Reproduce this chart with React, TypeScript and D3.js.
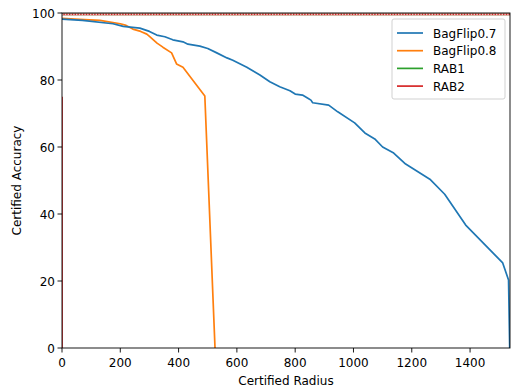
import React from "react";
import * as d3 from "d3";

const seriesNames = ["BagFlip0.7", "BagFlip0.8", "RAB1", "RAB2"];
const seriesColors = ["#1f77b4", "#ff7f0e", "#2ca02c", "#d62728"];

const bagFlip07: [number, number][] = [
  [0, 98.2], [70, 97.8], [175, 96.8], [210, 96.0], [267, 95.5], [300, 94.5],
  [325, 93.4], [353, 92.9], [380, 92.0], [415, 91.4], [432, 90.7], [473, 90.1],
  [500, 89.4], [531, 88.1], [566, 86.6], [586, 85.9], [634, 83.8], [679, 81.5],
  [713, 79.5], [747, 78.0], [782, 76.8], [800, 75.8], [825, 75.5], [845, 74.5],
  [854, 74.0], [860, 73.2], [915, 72.5], [946, 70.5], [1004, 67.2], [1039, 64.2],
  [1073, 62.4], [1100, 60.0], [1138, 58.2], [1179, 54.9], [1262, 50.4],
  [1313, 45.9], [1385, 36.7], [1512, 25.4], [1532, 20.3], [1536, 0],
];
const bagFlip08: [number, number][] = [
  [0, 98.4], [60, 98.1], [130, 97.8], [200, 96.8], [220, 96.3], [243, 95.2],
  [270, 94.5], [291, 93.7], [302, 92.9], [326, 91.0], [346, 89.8], [376, 88.1],
  [393, 84.8], [415, 83.8], [490, 75.2], [525, 0],
];
const rab1: [number, number][] = [[0, 99.6], [1537, 99.6]];
// NaN marks a gap between the two parts of the RAB2 curve
const rab2: [number, number][] = [[1537, 99.6], [0, 99.6], [NaN, NaN], [0, 75], [0, 0]];

const xTicks = [0, 200, 400, 600, 800, 1000, 1200, 1400];
const yTicks = [0, 20, 40, 60, 80, 100];

export default function App() {
  const W = 511, H = 392;
  const L = 62, R = 510, T = 13, B = 348;
  const x = d3.scaleLinear().domain([0, 1537]).range([L, R]);
  const y = d3.scaleLinear().domain([0, 100]).range([B, T]);
  const line = d3.line<[number, number]>()
    .defined(d => !isNaN(d[0]))
    .x(d => x(d[0])).y(d => y(d[1]));
  const font = "DejaVu Sans, sans-serif";
  const fs = 12;
  return (
    <svg width={W} height={H} style={{ position: "absolute", left: 0, top: 0 }}>
      <rect width={W} height={H} fill="white" />
      <defs>
        <clipPath id="clip"><rect x={L} y={T - 2} width={R - L} height={B - T + 2} /></clipPath>
      </defs>
      <g clipPath="url(#clip)">
        <path d={line(rab1)!} fill="none" stroke={seriesColors[2]} strokeWidth={1.7} />
        <path d={line(rab2)!} fill="none" stroke={seriesColors[3]} strokeWidth={1.7} />
        <path d={line(bagFlip08)!} fill="none" stroke={seriesColors[1]} strokeWidth={1.7} strokeLinejoin="round" />
        <path d={line(bagFlip07)!} fill="none" stroke={seriesColors[0]} strokeWidth={1.7} strokeLinejoin="round" />
        <line x1={L} x2={R} y1={y(99.6)} y2={y(99.6)} stroke="#f3c0c0" strokeWidth={1.7} strokeDasharray="1.4,1.4" />
      </g>
      <rect x={L} y={T} width={R - L} height={B - T} fill="none" stroke="black" strokeWidth={0.9} />
      {xTicks.map(t => (
        <g key={t}>
          <line x1={x(t)} x2={x(t)} y1={B} y2={B + 4.5} stroke="black" strokeWidth={0.9} />
          <text x={x(t)} y={B + 18.5} textAnchor="middle" fontFamily={font} fontSize={fs}>{t}</text>
        </g>
      ))}
      {yTicks.map(t => (
        <g key={t}>
          <line x1={L - 4.5} x2={L} y1={y(t)} y2={y(t)} stroke="black" strokeWidth={0.9} />
          <text x={L - 7} y={y(t) + 4.5} textAnchor="end" fontFamily={font} fontSize={fs}>{t}</text>
        </g>
      ))}
      <text x={(L + R) / 2} y={385} textAnchor="middle" fontFamily={font} fontSize={fs}>Certified Radius</text>
      <text transform={`translate(21,${(T + B) / 2}) rotate(-90)`} textAnchor="middle" fontFamily={font} fontSize={fs}>Certified Accuracy</text>
      <g>
        <rect x={392} y={19} width={113} height={80} rx={2} fill="white" fillOpacity={0.8} stroke="#cccccc" strokeWidth={0.9} />
        {seriesNames.map((n, i) => (
          <g key={n}>
            <line x1={397} x2={423} y1={33 + i * 17.7} y2={33 + i * 17.7} stroke={seriesColors[i]} strokeWidth={1.7} />
            <text x={433} y={33 + i * 17.7 + 4.5} fontFamily={font} fontSize={fs}>{n}</text>
          </g>
        ))}
      </g>
    </svg>
  );
}
